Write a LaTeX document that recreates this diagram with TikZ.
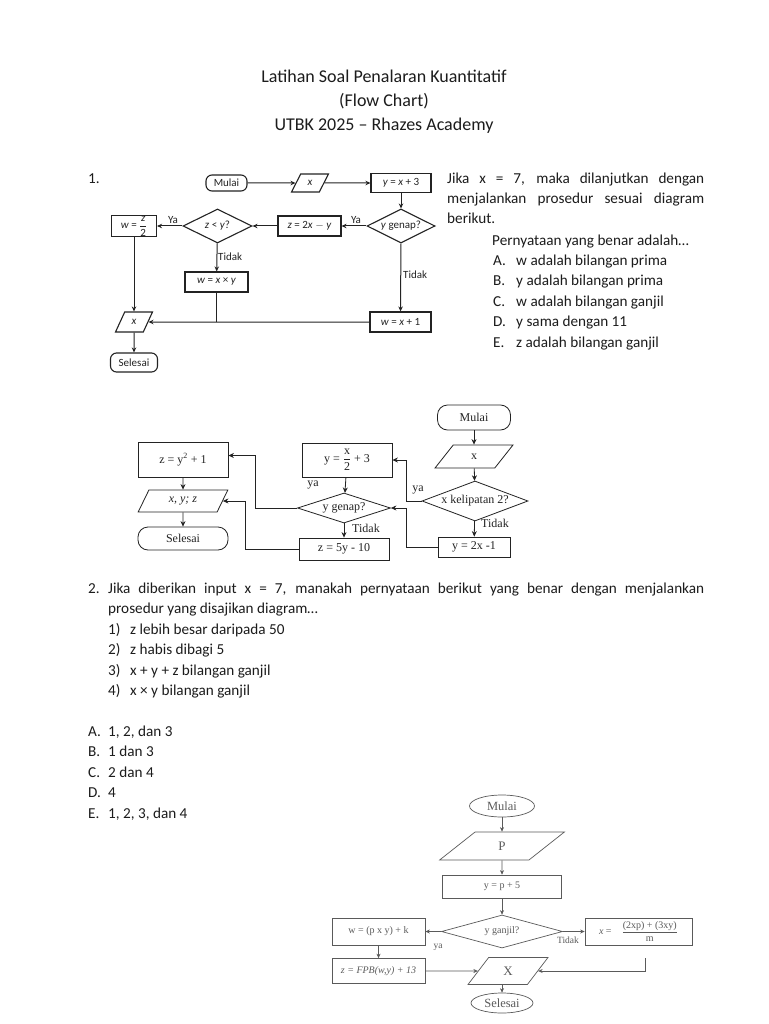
\documentclass[tikz,border=0pt]{standalone}
\usepackage{amsmath}
\usepackage{fontspec}
\setmainfont{Carlito}
\newfontfamily\chartserif{Liberation Serif}
\usetikzlibrary{arrows.meta,positioning,shapes.geometric,calc}
\definecolor{inkblack}{RGB}{28,28,28}
\definecolor{chartdark}{RGB}{35,35,35}
\definecolor{fadegray}{RGB}{90,90,90}
\tikzset{
  bodytext/.style={anchor=base west, inner sep=0pt, text=inkblack,
    font=\fontsize{15.2}{20}\selectfont},
  titletext/.style={anchor=base, inner sep=0pt, text=inkblack,
    font=\fontsize{18}{22}\selectfont},
  % chart one (sans)
  onebox/.style={rectangle, draw=chartdark, line width=1.1pt, inner sep=1pt,
    text=chartdark, font=\fontsize{11}{12}\selectfont},
  oneterm/.style={onebox, rounded corners=6pt},
  oneio/.style={onebox, trapezium, trapezium left angle=65,
    trapezium right angle=115, trapezium stretches=true},
  onedec/.style={onebox, diamond, aspect=2, inner sep=0pt},
  onelabel/.style={inner sep=0pt, text=chartdark, font=\fontsize{11}{12}\selectfont},
  onearrow/.style={-{Stealth[length=5pt,width=4.5pt]}, line width=1pt, draw=chartdark},
  oneline/.style={line width=1pt, draw=chartdark},
  % chart two (serif)
  twobox/.style={rectangle, draw=chartdark, line width=0.8pt, inner sep=1pt,
    text=chartdark, font=\chartserif\fontsize{12}{13}\selectfont},
  twoterm/.style={twobox, rounded corners=10pt},
  twoio/.style={twobox, trapezium, trapezium left angle=65,
    trapezium right angle=115, trapezium stretches=true},
  twodec/.style={twobox, diamond, aspect=2.5, inner sep=0pt},
  twolabel/.style={inner sep=0pt, text=chartdark, font=\chartserif\fontsize{12}{13}\selectfont},
  twoarrow/.style={-{Stealth[length=5.5pt,width=5pt]}, line width=0.8pt, draw=chartdark},
  % chart three (serif, faded)
  threebox/.style={rectangle, draw=fadegray, line width=0.7pt, inner sep=1pt,
    text=fadegray, font=\chartserif\fontsize{10}{11}\selectfont},
  threeterm/.style={threebox, ellipse, font=\chartserif\fontsize{12.5}{13}\selectfont},
  threeio/.style={threebox, trapezium, trapezium left angle=60,
    trapezium right angle=120, trapezium stretches=true,
    font=\chartserif\fontsize{13}{14}\selectfont},
  threedec/.style={threebox, diamond, aspect=3.5, inner sep=0pt},
  threelabel/.style={inner sep=0pt, text=fadegray, font=\chartserif\fontsize{9.5}{10}\selectfont},
  threearrow/.style={-{Stealth[length=4.5pt,width=4pt]}, line width=0.7pt, draw=fadegray}
}

\begin{document}
\begin{tikzpicture}[x=1pt,y=-1pt]

  \fill[white] (0,0) rectangle (768,1024);
  \useasboundingbox (0,0) rectangle (768,1024);

  % --- heading ---
  \node[titletext] (headA) at (384,83) {Latihan Soal Penalaran Kuantitatif};
  \node[titletext] (headB) at (384,107) {(Flow Chart)};
  \node[titletext] (headC) at (384,131) {UTBK 2025 – Rhazes Academy};

  % --- question 1 text ---
  \node[bodytext] (numA) at (88,184) {1.};
  \node[bodytext] (askA1) at (447,184) {\makebox[257pt][s]{Jika x = 7, maka dilanjutkan dengan}};
  \node[bodytext] (askA2) at (447,204) {\makebox[257pt][s]{menjalankan prosedur sesuai diagram}};
  \node[bodytext] (askA3) at (447,224) {berikut.};
  \node[bodytext] (askA4) at (492,245) {Pernyataan yang benar adalah…};
  \foreach \lab/\txt [count=\i] in {A./w adalah bilangan prima, B./y adalah bilangan prima,
      C./w adalah bilangan ganjil, D./y sama dengan 11, E./z adalah bilangan ganjil} {
    \node[bodytext] (optA\i) at (493,{265+20.5*(\i-1)}) {\lab};
    \node[bodytext] (optAtxt\i) at (516,{265+20.5*(\i-1)}) {\txt};
  }

  % --- chart 1 ---
  \node[oneterm, minimum width=41pt, minimum height=16pt] (startA) at (226.5,183) {Mulai};
  \node[oneio, minimum width=37pt, minimum height=18pt] (readA) at (310,183) {\textit{x}};
  \node[onebox, minimum width=60pt, minimum height=19pt] (setyA) at (401,183) {\textit{y} = \textit{x} + 3};
  \node[onedec, minimum width=68pt, minimum height=34pt] (evenA) at (401,226) {\textit{y} genap?};
  \node[onebox, minimum width=63pt, minimum height=20pt] (setzA) at (309.5,226) {\textit{z} = 2\textit{x} $-$ \textit{y}};
  \node[onedec, minimum width=69pt, minimum height=34pt] (cmpA) at (217.5,226) {\textit{z} < \textit{y}?};
  \node[onebox, minimum width=45pt, minimum height=19pt, inner sep=0.5pt] (halfA) at (134,226)
       {\textit{w} = \raisebox{0.2pt}{$\dfrac{\textit{z}}{\textup{2}}$}};
  \node[onebox, minimum width=63pt, minimum height=20pt] (mulA) at (216.5,282) {\textit{w} = \textit{x} × \textit{y}};
  \node[onebox, minimum width=61pt, minimum height=20pt] (incA) at (400.5,322) {\textit{w} = \textit{x} + 1};
  \node[oneio, minimum width=37pt, minimum height=20pt] (outA) at (134,322) {\textit{x}};
  \node[oneterm, minimum width=47pt, minimum height=19pt] (endA) at (134,362.5) {Selesai};

  \node[onelabel] (yesA1) at (356,220) {Ya};
  \node[onelabel] (yesA2) at (173,220) {Ya};
  \node[onelabel, anchor=west] (noA1) at (218,257) {Tidak};
  \node[onelabel, anchor=west] (noA2) at (403,275) {Tidak};

  \draw[onearrow] (startA) -- (readA);
  \draw[onearrow] (readA) -- (setyA);
  \draw[onearrow] (setyA) -- (evenA);
  \draw[onearrow] (evenA) -- (setzA);
  \draw[onearrow] (setzA) -- (cmpA);
  \draw[onearrow] (cmpA) -- (halfA);
  \draw[onearrow] (cmpA) -- (mulA);
  \draw[onearrow] (evenA) -- (incA);
  \draw[onearrow] (halfA) -- (outA);
  \draw[onearrow] (incA) -- (outA);
  \draw[onearrow] (outA) -- (endA);
  \draw[oneline] (mulA) -- (mulA |- incA.west);

  % --- chart 2 ---
  \node[twoterm, minimum width=73pt, minimum height=25pt] (startB) at (474,417.5) {Mulai};
  \node[twoio, minimum width=78pt, minimum height=23pt] (readB) at (474,456.5) {x};
  \node[twodec, minimum width=106pt, minimum height=40pt] (multB) at (475,501) {x kelipatan 2?};
  \node[twobox, minimum width=90pt, minimum height=34pt] (halfB) at (347,460) {y = $\dfrac{\text{x}}{\text{2}}$ + 3};
  \node[twodec, minimum width=93pt, minimum height=30pt] (evenB) at (344,508) {y genap?};
  \node[twobox, minimum width=72pt, minimum height=20pt] (oddB) at (474,547) {y = 2x -1};
  \node[twobox, minimum width=90pt, minimum height=22pt] (fiveB) at (344,549) {z = 5y - 10};
  \node[twobox, minimum width=90pt, minimum height=35pt] (sqB) at (183,459.5) {z = y\textsuperscript{2} + 1};
  \node[twoio, minimum width=90pt, minimum height=22pt] (outB) at (183,501) {\textit{x, y; z}};
  \node[twoterm, minimum width=90pt, minimum height=23pt] (endB) at (183,538.5) {Selesai};

  \node[twolabel] (yesB1) at (418,490) {ya};
  \node[twolabel] (yesB2) at (313,485) {ya};
  \node[twolabel, anchor=west] (noB1) at (481,523) {Tidak};
  \node[twolabel, anchor=west] (noB2) at (352,528) {Tidak};

  \draw[twoarrow] (startB) -- (readB);
  \draw[twoarrow] (readB) -- (multB);
  \draw[twoarrow] (multB.west) -- ++(-15,0) |- (halfB.east);
  \draw[twoarrow] (multB) -- (oddB);
  \draw[twoarrow] (halfB) -- (evenB);
  \draw[twoarrow] (oddB.west) -- ++(-31,0) |- (evenB.east);
  \draw[twoarrow] (evenB) -- (fiveB);
  \draw[twoarrow] (evenB.west) -- ++(-42,0) |- ([yshift=4pt]sqB.east);
  \draw[twoarrow] (fiveB.west) -- ++(-53,0) |- (outB.east);
  \draw[twoarrow] (sqB) -- (outB);
  \draw[twoarrow] (outB) -- (endB);

  % --- question 2 text ---
  \node[bodytext] (numB) at (88,593) {2.};
  \node[bodytext] (askB1) at (108,593) {\makebox[596pt][s]{Jika diberikan input x = 7, manakah pernyataan berikut yang benar dengan menjalankan}};
  \node[bodytext] (askB2) at (108,613) {prosedur yang disajikan diagram…};
  \foreach \lab/\txt [count=\i] in {1)/z lebih besar daripada 50, 2)/z habis dibagi 5,
      3)/x + y + z bilangan ganjil, 4)/x × y bilangan ganjil} {
    \node[bodytext] (itemB\i) at (108,{634+20.5*(\i-1)}) {\lab};
    \node[bodytext] (itemBtxt\i) at (130,{634+20.5*(\i-1)}) {\txt};
  }
  \foreach \lab/\txt [count=\i] in {A./{1, 2, dan 3}, B./1 dan 3, C./2 dan 4, D./4, E./{1, 2, 3, dan 4}} {
    \node[bodytext] (optB\i) at (88,{736+20.5*(\i-1)}) {\lab};
    \node[bodytext] (optBtxt\i) at (108,{736+20.5*(\i-1)}) {\txt};
  }

  % --- chart 3 ---
  \node[threeterm, minimum width=65pt, minimum height=22pt] (startC) at (502,806) {Mulai};
  \node[threeio, minimum width=125pt, minimum height=28pt] (readC) at (502,846) {P};
  \node[threebox, minimum width=119pt, minimum height=23pt] (setyC) at (502,886.5) {y = p + 5};
  \node[threedec, minimum width=121pt, minimum height=33pt] (oddC) at (502,931.5) {y ganjil?};
  \node[threebox, minimum width=93pt, minimum height=27pt] (setwC) at (378.5,931.5) {w = (p x y) + k};
  \node[threebox, minimum width=107pt, minimum height=27pt] (setxC) at (638.5,931.5)
       {\textit{x} =\quad $\dfrac{\text{(2xp) + (3xy)}}{\text{m}}$};
  \node[threebox, minimum width=93pt, minimum height=25pt] (setzC) at (378.5,971) {\textit{z = FPB(w,y) + 13}};
  \node[threeio, minimum width=80pt, minimum height=27pt] (outC) at (508,971) {X};
  \node[threeterm, minimum width=62pt, minimum height=20pt] (endC) at (502,1003) {Selesai};

  \node[threelabel] (yesC) at (438,947) {ya};
  \node[threelabel] (noC) at (568,940) {Tidak};
  \coordinate (tailC) at (645,958);

  \draw[threearrow] (startC) -- (readC);
  \draw[threearrow] (readC) -- (setyC);
  \draw[threearrow] (setyC) -- (oddC);
  \draw[threearrow] (oddC) -- (setwC);
  \draw[threearrow] (oddC) -- (setxC);
  \draw[threearrow] (setwC) -- (setzC);
  \draw[threearrow] (setzC) -- (outC);
  \draw[threearrow] (tailC) |- (outC.east);
  \draw[threearrow] (outC.south -| endC.north) -- (endC);

\end{tikzpicture}
\end{document}
